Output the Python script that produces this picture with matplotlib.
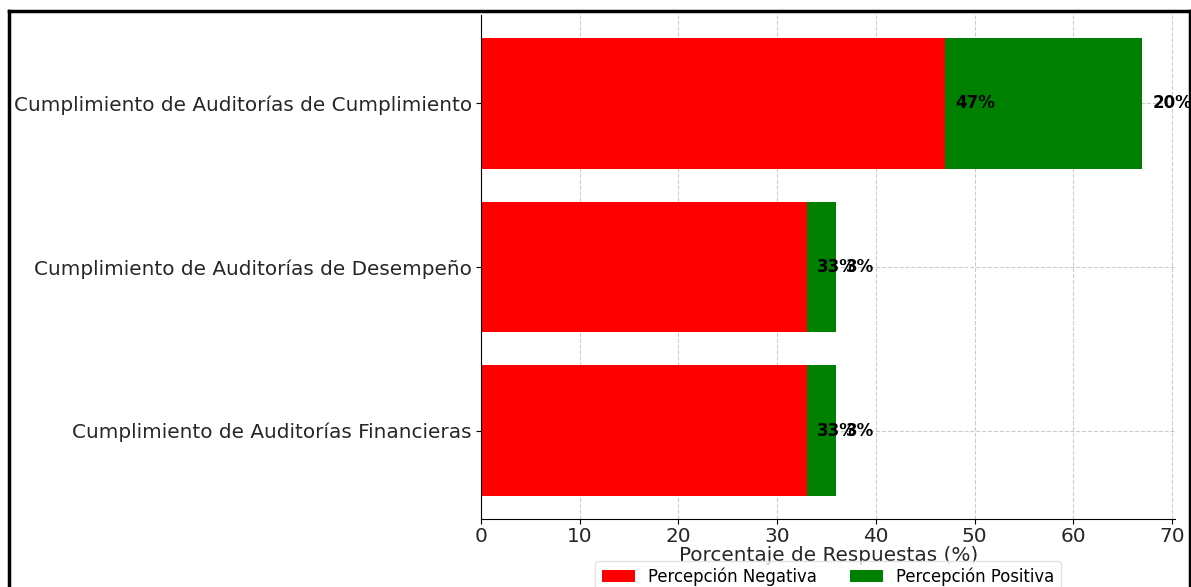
import matplotlib
matplotlib.use("Agg")
import matplotlib.pyplot as plt
from matplotlib.lines import Line2D
import numpy as np

categories = [
    "Cumplimiento de Auditorías Financieras",
    "Cumplimiento de Auditorías de Desempeño",
    "Cumplimiento de Auditorías de Cumplimiento",
]
negativa = [33, 33, 47]
positiva = [3, 3, 20]
xticks = [0, 10, 20, 30, 40, 50, 60, 70]

W, H = 1191, 587
fig = plt.figure(figsize=(W / 100, H / 100), dpi=100)
ax = fig.add_axes([481 / W, 1 - 519 / H, (1175.4 - 481) / W, (519 - 15) / H])

y = np.arange(len(categories))
ax.barh(y, negativa, height=0.8, color="#ff0000", label="Percepción Negativa")
ax.barh(y, positiva, left=negativa, height=0.8, color="#008000", label="Percepción Positiva")

for yi, n, p in zip(y, negativa, positiva):
    ax.text(n + 1, yi, f"{n}%", va="center", ha="left", fontsize=12, fontweight="bold", color="black")
    ax.text(n + p + 1, yi, f"{p}%", va="center", ha="left", fontsize=12, fontweight="bold", color="black")

ax.set_yticks(y)
ax.set_yticklabels(categories, fontsize=14.4, color="#262626")
ax.set_xticks(xticks)
ax.tick_params(axis="x", labelsize=14.4, labelcolor="#262626", pad=2)
ax.tick_params(axis="y", pad=3)
ax.set_xlim(0, 70.35)
ax.set_xlabel("Porcentaje de Respuestas (%)", fontsize=14.4, color="#262626", labelpad=0)
ax.grid(True, linestyle="--", color="#cccccc", linewidth=0.8)
ax.set_axisbelow(True)
for s in ("top", "right"):
    ax.spines[s].set_visible(False)

ax.legend(loc="upper center", bbox_to_anchor=(0.5, -0.066), ncol=2, fontsize=11.9,
          frameon=True, edgecolor="#dddddd")

# outer frame around the figure
fig.add_artist(Line2D([9 / W, 9 / W], [0, 1 - 11 / H], transform=fig.transFigure, color="black", lw=2.5))
fig.add_artist(Line2D([9 / W, 1189.5 / W], [1 - 11 / H, 1 - 11 / H], transform=fig.transFigure, color="black", lw=2.5))
fig.add_artist(Line2D([1189.5 / W, 1189.5 / W], [0, 1 - 11 / H], transform=fig.transFigure, color="black", lw=2.5))

fig.savefig("out.png", dpi=100)
